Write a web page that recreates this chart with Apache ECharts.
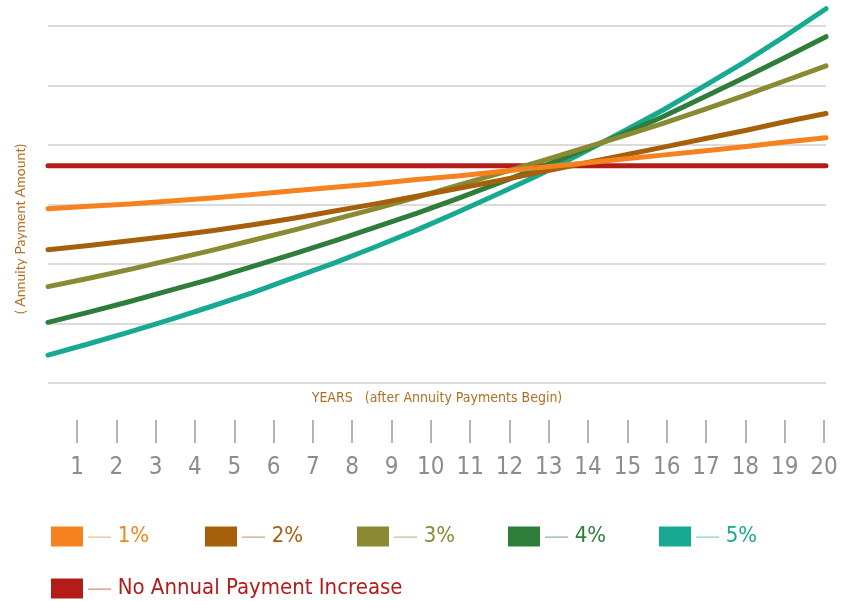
<!DOCTYPE html>
<html>
<head>
<meta charset="utf-8">
<title>Annuity payment increase</title>
<script src="https://cdn.jsdelivr.net/npm/echarts@6/dist/echarts.min.js"></script>
<style>
  html, body { margin: 0; padding: 0; background: #fff; }
  #chart { width: 845px; height: 601px; }
</style>
</head>
<body>
<div id="chart"></div>
<script>
// years on the x axis
const years = [1, 2, 3, 4, 5, 6, 7, 8, 9, 10, 11, 12, 13, 14, 15, 16, 17, 18, 19, 20];

// payment amount (no unit on the chart)
const noIncrease = [3.65, 3.65, 3.65, 3.65, 3.65, 3.65, 3.65, 3.65, 3.65, 3.65,
  3.65, 3.65, 3.65, 3.65, 3.65, 3.65, 3.65, 3.65, 3.65, 3.65];
const inc1 = [2.93, 2.97, 3.01, 3.06, 3.11, 3.17, 3.23, 3.29, 3.35, 3.42,
  3.48, 3.55, 3.62, 3.69, 3.76, 3.83, 3.90, 3.97, 4.05, 4.12];
const inc2 = [2.24, 2.31, 2.39, 2.47, 2.56, 2.66, 2.77, 2.89, 3.01, 3.14,
  3.27, 3.40, 3.54, 3.68, 3.82, 3.96, 4.10, 4.24, 4.39, 4.53];
const inc3 = [1.62, 1.76, 1.91, 2.07, 2.23, 2.40, 2.57, 2.75, 2.93, 3.12,
  3.32, 3.52, 3.72, 3.93, 4.14, 4.36, 4.59, 4.83, 5.08, 5.33];
const inc4 = [1.02, 1.19, 1.37, 1.56, 1.75, 1.96, 2.17, 2.39, 2.62, 2.85,
  3.10, 3.36, 3.62, 3.89, 4.17, 4.47, 4.80, 5.13, 5.47, 5.82];
const inc5 = [0.47, 0.66, 0.86, 1.07, 1.29, 1.52, 1.77, 2.02, 2.29, 2.57,
  2.87, 3.18, 3.50, 3.85, 4.21, 4.58, 4.98, 5.39, 5.83, 6.29];

const seriesNames = ['1%', '2%', '3%', '4%', '5%'];
const noIncreaseName = 'No Annual Payment Increase';

const colors = {
  '1%': '#F5821F',
  '2%': '#A65F0B',
  '3%': '#8A8A34',
  '4%': '#2F7D3A',
  '5%': '#17A991',
  'No Annual Payment Increase': '#B41C1A'
};
const dashColors = {
  '1%': '#F9C9A0',
  '2%': '#D9BC99',
  '3%': '#CFCFA8',
  '4%': '#A6C9A8',
  '5%': '#A2DDD2',
  'No Annual Payment Increase': '#E0A3A0'
};

// where each legend entry starts
const legendLeft = [51, 205, 357, 508, 659];

const narrow = "'Liberation Sans Narrow', 'DejaVu Sans Condensed', sans-serif";
const axisTitleColor = '#B26F22';

function lineSeries(name, data) {
  return {
    name: name,
    type: 'line',
    xAxisIndex: 0,
    yAxisIndex: 0,
    data: data,
    symbol: 'none',
    clip: false,
    color: colors[name],
    lineStyle: { width: 5, color: colors[name], cap: 'round', join: 'round' },
    emphasis: { disabled: true }
  };
}

// one legend per entry so each one sits where the picture has it
function legendFor(name, left, top) {
  return {
    data: [name],
    left: left,
    top: top,
    padding: 0,
    icon: 'rect',
    itemWidth: 32,
    itemHeight: 20,
    selectedMode: false,
    formatter: '{d|—}  {t|{name}}',
    textStyle: {
      rich: {
        d: { color: dashColors[name], fontSize: 23, fontFamily: 'Liberation Sans' },
        t: { color: colors[name], fontSize: 22, fontFamily: narrow }
      }
    }
  };
}

const legends = seriesNames.map(function (name, i) {
  return legendFor(name, legendLeft[i], 525);
});
legends.push(legendFor(noIncreaseName, 51, 577));

const chart = echarts.init(document.getElementById('chart'), null, { renderer: 'canvas' });

const option = {
  backgroundColor: '#ffffff',
  animation: false,
  grid: [
    { left: 48, right: 19, top: 26, height: 357, outerBoundsMode: 'none' },
    { left: 77, right: 21, top: 400, height: 20, outerBoundsMode: 'none' }
  ],
  xAxis: [
    {
      gridIndex: 0,
      type: 'category',
      data: years,
      boundaryGap: false,
      show: false
    },
    {
      gridIndex: 1,
      type: 'value',
      min: 1,
      max: 20,
      interval: 1,
      axisLine: { show: false },
      axisTick: { show: true, length: 23, lineStyle: { color: '#9a9a9a', width: 1.5 } },
      axisLabel: { color: '#8c8c8c', fontSize: 24, fontFamily: narrow, margin: 36 },
      splitLine: { show: false }
    }
  ],
  yAxis: [
    {
      gridIndex: 0,
      type: 'value',
      min: 0,
      max: 6,
      interval: 1,
      axisLine: { show: false },
      axisTick: { show: false },
      axisLabel: { show: false },
      splitLine: { show: true, lineStyle: { color: '#cfcfcf', width: 1.5 } }
    },
    { gridIndex: 1, type: 'value', show: false }
  ],
  legend: legends,
  graphic: [
    {
      type: 'text',
      x: 437,
      y: 398,
      style: {
        text: 'YEARS   (after Annuity Payments Begin)',
        fill: axisTitleColor,
        font: '14px ' + narrow,
        align: 'center',
        verticalAlign: 'middle'
      }
    },
    {
      type: 'text',
      x: 20,
      y: 229,
      rotation: Math.PI / 2,
      style: {
        text: '( Annuity Payment Amount)',
        fill: axisTitleColor,
        font: '14px Lato, sans-serif',
        align: 'center',
        verticalAlign: 'middle'
      }
    }
  ],
  series: [
    lineSeries(noIncreaseName, noIncrease),
    lineSeries('5%', inc5),
    lineSeries('4%', inc4),
    lineSeries('3%', inc3),
    lineSeries('2%', inc2),
    lineSeries('1%', inc1)
  ]
};

chart.setOption(option);
</script>
</body>
</html>
